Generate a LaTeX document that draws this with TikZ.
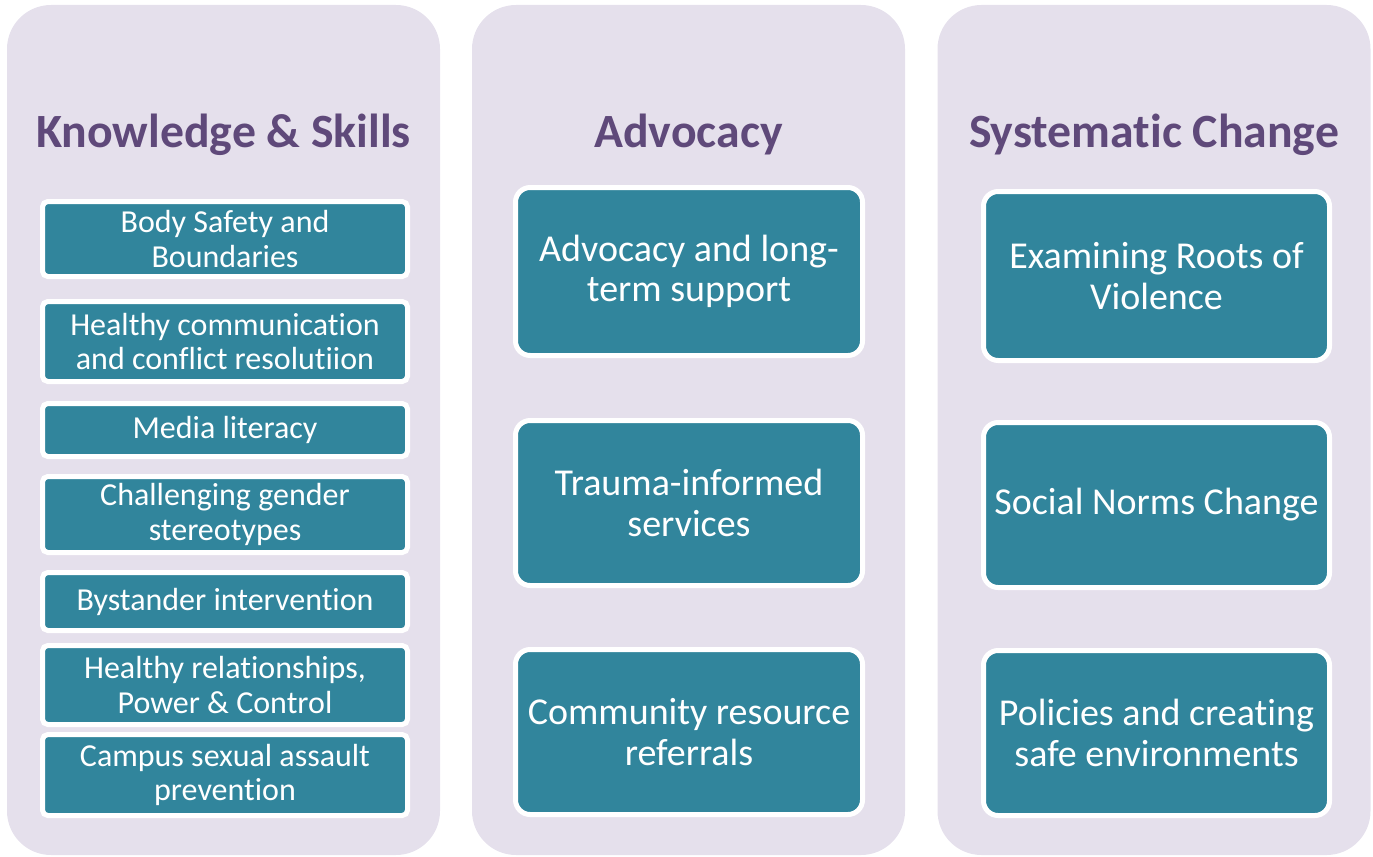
\documentclass[tikz,border=0pt]{standalone}
\usepackage{fontspec}
\setmainfont{Carlito}[Ligatures=NoCommon]
\definecolor{lav}{HTML}{E5E0EC}
\definecolor{ttl}{HTML}{5F497A}
\definecolor{tealbox}{HTML}{31859C}
\begin{document}
\begin{tikzpicture}[x=0.75pt,y=-0.75pt,
  col/.style={rectangle, rounded corners=33pt, fill=lav, draw=none, inner sep=0pt, minimum width=324.75pt, minimum height=637.5pt},
  title/.style={anchor=base, text=ttl, font=\fontsize{35.8}{40}\selectfont\bfseries, inner sep=0pt},
  lbox/.style={rectangle, rounded corners=4pt, fill=tealbox, draw=white, line width=3.75pt, text=white, align=center, font=\fontsize{24}{26}\selectfont, inner sep=0pt, minimum width=273.75pt},
  bbox/.style={rectangle, rounded corners=11pt, fill=tealbox, draw=white, line width=3.75pt, text=white, align=center, font=\fontsize{28.5}{30.5}\selectfont, inner sep=0pt, minimum height=123.75pt},
]
\useasboundingbox (0,0) rectangle (1373,856);
\node[col] (c1) at (223.5,430) {};
\node[col] (c2) at (688.5,430) {};
\node[col] (c3) at (1154,430) {};

\node[title] (t1) at (223.5,147) {Knowledge \& Skills};
\node[title] (t2) at (688.5,147) {Advocacy};
\node[title] (t3) at (1154,147) {Systematic Change};

\node[lbox, minimum height=56.25pt] (k1) at (225,239) {Body Safety and\\Boundaries};
\node[lbox, minimum height=60pt] (k2) at (225,341.5) {Healthy communication\\and conflict resolutiion};
\node[lbox, minimum height=39.75pt] (k3) at (225,430) {Media literacy};
\node[lbox, minimum height=57pt] (k4) at (225,514.5) {Challenging gender\\stereotypes};
\node[lbox, minimum height=43.5pt] (k5) at (225,601.5) {Bystander intervention};
\node[lbox, minimum height=59.25pt] (k6) at (225,685) {Healthy relationships,\\Power \& Control};
\node[lbox, minimum height=60.75pt] (k7) at (225,775) {Campus sexual assault\\prevention};

\node[bbox, minimum width=260.25pt, minimum height=126pt] (a1) at (689,271.5) {Advocacy and long-\\term support};
\node[bbox, minimum width=260.25pt] (a2) at (689,503) {Trauma-informed\\services};
\node[bbox, minimum width=260.25pt] (a3) at (689,732) {Community resource\\referrals};

\node[bbox, minimum width=259.5pt, minimum height=126.75pt] (s1) at (1156.5,276) {Examining Roots of\\Violence};
\node[bbox, minimum width=259.5pt] (s2) at (1156.5,505) {Social Norms Change};
\node[bbox, minimum width=259.5pt] (s3) at (1156.5,733) {Policies and creating\\safe environments};
\end{tikzpicture}
\end{document}
